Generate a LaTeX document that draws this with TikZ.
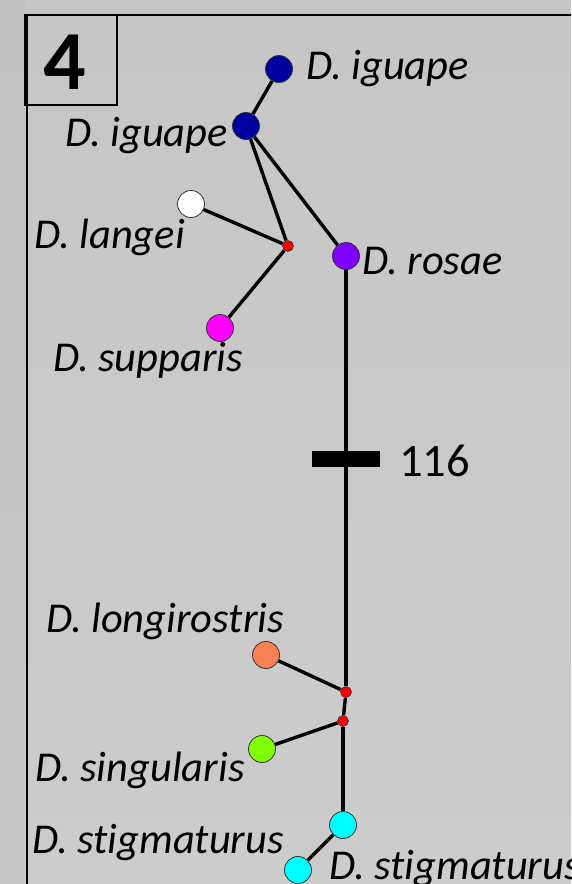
\documentclass[tikz,border=0pt]{standalone}
\usepackage{fontspec}
\setmainfont[Ligatures=NoCommon]{Carlito}
\definecolor{bgtop}{RGB}{198,198,198}
\definecolor{bgbot}{RGB}{204,204,204}
\definecolor{navyblue}{RGB}{0,0,160}
\definecolor{violetc}{RGB}{128,0,255}
\definecolor{magentac}{RGB}{255,0,255}
\definecolor{orangec}{RGB}{249,128,80}
\definecolor{greenc}{RGB}{128,255,0}
\definecolor{cyanc}{RGB}{0,255,255}
\definecolor{redc}{RGB}{255,0,0}
\begin{document}
\begin{tikzpicture}[x=1pt,y=-1pt,
  hap/.style={circle,draw=black!80,line width=0.8pt,minimum size=27pt,inner sep=0pt},
  median/.style={circle,draw=black!80,line width=0.6pt,fill=redc,minimum size=11pt,inner sep=0pt},
  link/.style={line width=3.4pt,black},
  lbl/.style={anchor=base west,inner sep=0pt,font=\fontsize{42.5}{50}\selectfont\itshape},
  frame/.style={line width=1.3pt,black}]
\useasboundingbox (0,0) rectangle (571,884);
% photographic backdrop, toned down to grey
\shade[top color=bgtop,bottom color=bgbot] (0,0) rectangle (571,884);
\fill[black!26,opacity=0.35] (0,0) rectangle (25,884);

% panel frame and number box
\draw[frame] (571,15) -- (27,15) -- (27,884);
\draw[frame] (25,15) rectangle (117,105);
\node[anchor=center,inner sep=0pt,font=\fontsize{84}{90}\selectfont\bfseries] (num) at (65,62) {4};

% haplotypes
\node[hap,fill=navyblue] (ig1) at (279,69) {};
\node[hap,fill=navyblue] (ig2) at (246,126) {};
\node[hap,fill=white] (lan) at (191,204) {};
\node[median] (m1) at (288,246) {};
\node[hap,fill=violetc] (ros) at (346,256) {};
\node[hap,fill=magentac] (sup) at (220,328) {};
\node[hap,fill=orangec] (lon) at (266,655) {};
\node[median] (m2) at (346,692) {};
\node[median] (m3) at (343,721) {};
\node[hap,fill=greenc] (sin) at (262,749) {};
\node[hap,fill=cyanc] (st1) at (343,825) {};
\node[hap,fill=cyanc] (st2) at (298,870) {};

% network links
\draw[link] (ig1) -- (ig2);
\draw[link] (ig2) -- (m1);
\draw[link] (ig2) -- (ros);
\draw[link] (lan) -- (m1);
\draw[link] (sup) -- (m1);
\draw[link] (ros) -- (m2);
\draw[link] (m2) -- (lon);
\draw[link] (m2) -- (m3);
\draw[link] (m3) -- (sin);
\draw[link] (m3) -- (st1);
\draw[link] (st1) -- (st2);

% mutation step bar
\node[fill=black,minimum width=68pt,minimum height=16pt,inner sep=0pt] (bar) at (346,459) {};
\node[anchor=west,inner sep=0pt,font=\fontsize{46.5}{54}\selectfont] (steps) at (399,461) {116};

% species labels
\node[lbl] (tig1) at (306,79) {D. iguape};
\node[lbl] (tig2) at (65,146) {D. iguape};
\node[lbl] (tlan) at (34,248) {D. langei};
\node[lbl] (tros) at (362,274) {D. rosae};
\node[lbl] (tsup) at (53,371) {D. supparis};
\node[lbl] (tlon) at (46,632) {D. longirostris};
\node[lbl] (tsin) at (35,781) {D. singularis};
\node[lbl] (tst1) at (32,853) {D. stigmaturus};
\node[lbl] (tst2) at (329,879) {D. stigmaturus};
\end{tikzpicture}
\end{document}
